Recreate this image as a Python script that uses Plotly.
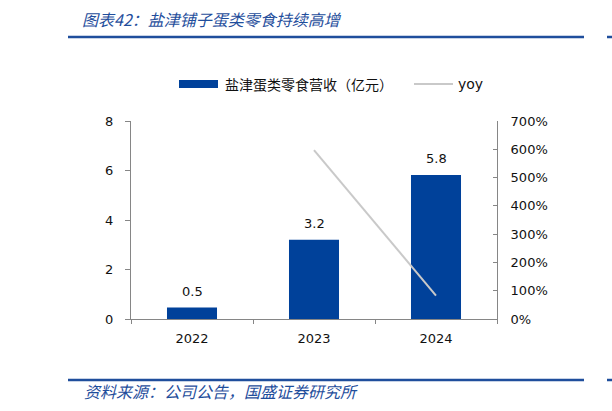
import plotly.graph_objects as go

years = ["2022", "2023", "2024"]
revenue = [0.46, 3.2, 5.82]          # 亿元
yoy = [None, 5.97, 0.83]             # growth, fraction

bar_name = "盐津蛋类零食营收（亿元）"
line_name = "yoy"
title_text = "图表42：盐津铺子蛋类零食持续高增"
source_text = "资料来源：公司公告，国盛证券研究所"

BLUE = "#00419a"
TITLE_BLUE = "#1f4e9c"
GRAY_LINE = "#c9c9c9"
AXIS = "#868686"
CJK = "Noto Sans CJK SC"
SANS = "DejaVu Sans"

fig = go.Figure()
fig.add_trace(go.Bar(x=years, y=revenue, name=bar_name, marker=dict(color=BLUE, line=dict(width=0)),
                     width=0.41, showlegend=False, xaxis="x", yaxis="y"))
fig.add_trace(go.Scatter(x=years, y=yoy, name=line_name, mode="lines",
                         line=dict(color=GRAY_LINE, width=2), showlegend=False, xaxis="x", yaxis="y2"))

annotations = []
for i, v in enumerate(revenue):
    # category axis: annotation x given as category index
    annotations.append(dict(x=i, y=v, xref="x", yref="y", text=f"{v:.1f}", showarrow=False,
                            yshift=16, font=dict(family=SANS, size=13, color="#111111")))

W, H = 612, 411
def px(x):
    return x / W
def py(y):
    return 1 - y / H

def paper_ann(x, y, text, font, anchor="left"):
    return dict(x=px(x), y=py(y), xref="paper", yref="paper", text=text, showarrow=False,
                xanchor=anchor, yanchor="middle", font=font)

annotations.append(paper_ann(80, 19, title_text, dict(family=CJK, size=16, color=TITLE_BLUE, style="italic")))
annotations.append(paper_ann(82, 391, source_text, dict(family=CJK, size=16, color=TITLE_BLUE, style="italic")))
annotations.append(paper_ann(223, 84, bar_name, dict(family=CJK, size=14, color="#111111")))
annotations.append(paper_ann(456, 84, line_name, dict(family=SANS, size=14, color="#111111")))

shapes = [
    dict(type="line", xref="paper", yref="paper", x0=px(68), x1=px(584), y0=py(37), y1=py(37),
         line=dict(color=TITLE_BLUE, width=2.5)),
    dict(type="line", xref="paper", yref="paper", x0=px(607), x1=px(612), y0=py(37), y1=py(37),
         line=dict(color=TITLE_BLUE, width=2.5)),
    dict(type="line", xref="paper", yref="paper", x0=px(68), x1=px(584), y0=py(380), y1=py(380),
         line=dict(color=TITLE_BLUE, width=2.5)),
    dict(type="line", xref="paper", yref="paper", x0=px(607), x1=px(612), y0=py(380), y1=py(380),
         line=dict(color=TITLE_BLUE, width=2.5)),
    dict(type="rect", xref="paper", yref="paper", x0=px(179), x1=px(218), y0=py(88), y1=py(80),
         fillcolor=BLUE, line=dict(width=0)),
    dict(type="line", xref="paper", yref="paper", x0=px(414), x1=px(453), y0=py(84), y1=py(84),
         line=dict(color=GRAY_LINE, width=2)),
]

L, R, T, B = 131, 497, 121, 319
fig.update_layout(
    width=W, height=H,
    margin=dict(l=0, r=0, t=0, b=0, autoexpand=False),
    paper_bgcolor="white", plot_bgcolor="white",
    showlegend=False,
    annotations=annotations, shapes=shapes,
    xaxis=dict(type="category", categoryorder="array", categoryarray=years,
               range=[-0.5, len(years) - 0.5], domain=[px(L), px(R)],
               showline=True, linecolor=AXIS, linewidth=1,
               ticks="outside", tickson="boundaries", ticklen=4, tickcolor=AXIS,
               tickfont=dict(family=SANS, size=13, color="#111111"), showgrid=False,
               ticklabelstandoff=7),
    yaxis=dict(domain=[py(B), py(T)], range=[0, 8], dtick=2, showline=True, linecolor=AXIS,
               linewidth=1, ticks="outside", ticklen=5, tickcolor=AXIS, showgrid=False,
               zeroline=False, tickfont=dict(family=SANS, size=13, color="#111111"),
               ticklabelstandoff=9),
    yaxis2=dict(range=[0, 7], dtick=1, tickformat=".0%", overlaying="y",
                side="right", anchor="x", showline=True, linecolor=AXIS, linewidth=1,
                ticks="inside", ticklen=4, tickcolor=AXIS, showgrid=False, zeroline=False,
                tickfont=dict(family=SANS, size=13, color="#111111"), ticklabelstandoff=10),
)
fig.write_html("out.html", config={"displayModeBar": False},
               post_script="document.body.style.margin='0';")
